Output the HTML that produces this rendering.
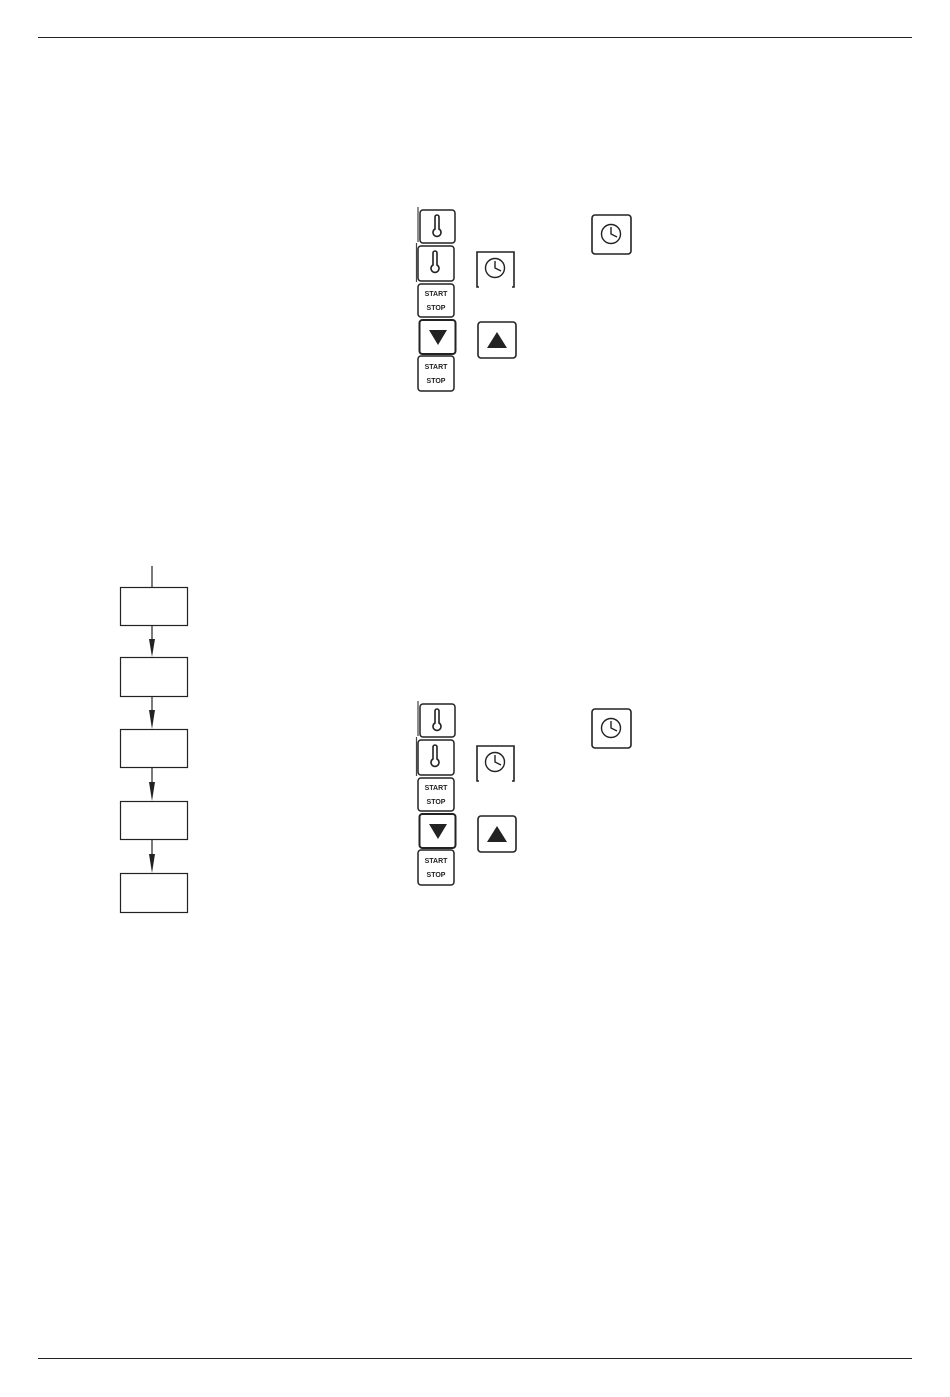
<!DOCTYPE html>
<html><head><meta charset="utf-8"><style>
html,body{margin:0;padding:0;background:#fff;}
svg{display:block}
</style></head><body>
<svg width="950" height="1397" viewBox="0 0 950 1397" xmlns="http://www.w3.org/2000/svg" font-family="Liberation Sans, sans-serif">
<defs>
<g id="therm" fill="none" stroke="#222" stroke-width="1.6">
<path d="M-2,-9 V3 A4,4 0 1 0 2,3 V-9 A2,2 0 0 0 -2,-9 Z"/>
</g>
<g id="clock" fill="none" stroke="#222" stroke-width="1.4">
<circle r="9.5"/><path d="M0,-7 V0 L6,3"/>
</g>
<g id="grp">
<line x1="418" y1="207" x2="418" y2="242" stroke="#444" stroke-width="1.2"/>
<line x1="416.5" y1="243" x2="416.5" y2="282" stroke="#444" stroke-width="1.2"/>
<rect x="420" y="210" width="35" height="33" rx="3" fill="#fff" stroke="#222" stroke-width="1.5"/>
<use href="#therm" x="437" y="226"/>
<rect x="418" y="246" width="36" height="35" rx="3" fill="#fff" stroke="#222" stroke-width="1.5"/>
<use href="#therm" x="435" y="262"/>
<rect x="418" y="284" width="36" height="33" rx="3" fill="#fff" stroke="#222" stroke-width="1.5"/>
<text x="436" y="296" font-size="7" font-weight="bold" text-anchor="middle" fill="#222">START</text>
<text x="436" y="310" font-size="7" font-weight="bold" text-anchor="middle" fill="#222">STOP</text>
<rect x="419.5" y="320" width="36" height="34" rx="3" fill="#fff" stroke="#222" stroke-width="2"/>
<path d="M429,330 H447 L438,345 Z" fill="#222"/>
<rect x="418" y="356" width="36" height="35" rx="3" fill="#fff" stroke="#222" stroke-width="1.5"/>
<text x="436" y="369" font-size="7" font-weight="bold" text-anchor="middle" fill="#222">START</text>
<text x="436" y="383" font-size="7" font-weight="bold" text-anchor="middle" fill="#222">STOP</text>
<rect x="592" y="215" width="39" height="39" rx="3" fill="#fff" stroke="#222" stroke-width="1.6"/>
<use href="#clock" x="611" y="234"/>
<path d="M479,287 H477 V252 H514 V287 H512" fill="none" stroke="#222" stroke-width="1.6"/>
<use href="#clock" x="495" y="268"/>
<rect x="478" y="322" width="38" height="36" rx="3" fill="#fff" stroke="#222" stroke-width="1.6"/>
<path d="M487,348 H507 L497,332 Z" fill="#222"/>
</g>
</defs>
<line x1="38" y1="37.5" x2="912" y2="37.5" stroke="#222" stroke-width="1"/>
<line x1="38" y1="1358.5" x2="912" y2="1358.5" stroke="#222" stroke-width="1"/>
<use href="#grp"/>
<use href="#grp" y="494"/>
<g fill="none" stroke="#222" stroke-width="1.2">
<line x1="152" y1="566" x2="152" y2="587"/>
<rect x="120.5" y="587.5" width="67" height="38"/>
<rect x="120.5" y="657.5" width="67" height="39"/>
<rect x="120.5" y="729.5" width="67" height="38"/>
<rect x="120.5" y="801.5" width="67" height="38"/>
<rect x="120.5" y="873.5" width="67" height="39"/>
<line x1="152" y1="626" x2="152" y2="645"/>
<line x1="152" y1="697" x2="152" y2="717"/>
<line x1="152" y1="768" x2="152" y2="789"/>
<line x1="152" y1="840" x2="152" y2="861"/>
</g>
<g fill="#222">
<path d="M149,639 H155 L152,657 Z"/>
<path d="M149,710 H155 L152,729 Z"/>
<path d="M149,782 H155 L152,801 Z"/>
<path d="M149,854 H155 L152,873 Z"/>
</g>
</svg>
</body></html>
